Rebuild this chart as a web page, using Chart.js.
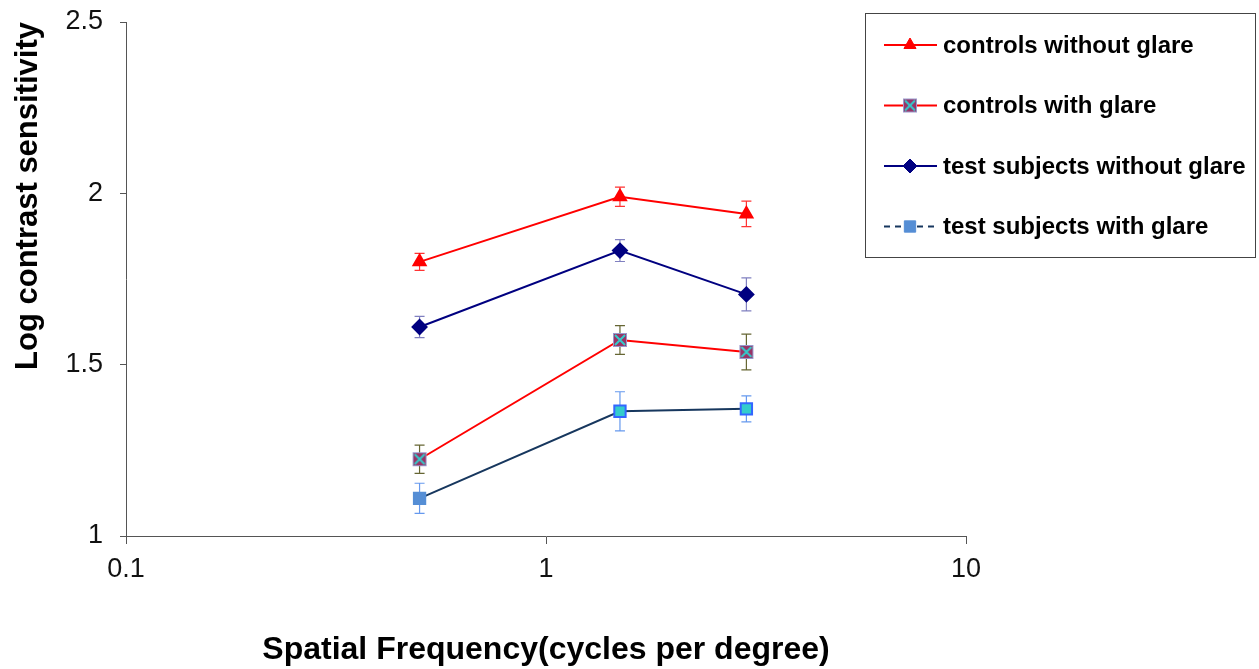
<!DOCTYPE html>
<html>
<head>
<meta charset="utf-8">
<script src="https://cdn.jsdelivr.net/npm/chart.js@4"></script>
<style>
  html, body { margin: 0; padding: 0; background: #fff; }
  #wrap { width: 1259px; height: 669px; position: relative; }
</style>
</head>
<body>
<div id="wrap"><canvas id="csfChart"></canvas></div>
<script>
// spatial frequencies (cycles per degree)
const freqs = [0.5, 1.5, 3];
const xTicks = [0.1, 1, 10];
const yTicks = [1, 1.5, 2, 2.5];

const seriesNames = [
    'controls without glare',
    'controls with glare',
    'test subjects without glare',
    'test subjects with glare'
];

// log contrast sensitivity
const ctrlNoGlare = [1.80, 1.99, 1.94];
const ctrlGlare = [1.224, 1.572, 1.537];
const testNoGlare = [1.61, 1.833, 1.705];
const testGlare = [1.11, 1.364, 1.371];

// +/- error
const ctrlNoGlareErr = [0.025, 0.028, 0.037];
const ctrlGlareErr = [0.041, 0.042, 0.052];
const testNoGlareErr = [0.031, 0.032, 0.048];
const testGlareErr = [0.044, 0.057, 0.038];

const FONT = '"Liberation Sans", Arial, sans-serif';

// marker: purple square with cyan cross
function makeCrossSquare() {
    const c = document.createElement('canvas');
    c.width = 16; c.height = 16;
    const g = c.getContext('2d');
    g.fillStyle = '#993366';
    g.fillRect(1, 1, 14, 14);
    g.strokeStyle = '#9999cc';
    g.lineWidth = 1;
    g.strokeRect(1.5, 1.5, 13, 13);
    g.strokeStyle = '#33cccc';
    g.lineWidth = 2;
    g.beginPath();
    g.moveTo(3, 3); g.lineTo(13, 13);
    g.moveTo(13, 3); g.lineTo(3, 13);
    g.stroke();
    return c;
}
const crossSquare = makeCrossSquare();

const toPts = ys => freqs.map((f, i) => ({ x: f, y: ys[i] }));

const errBars = [
    { vals: ctrlNoGlare, err: ctrlNoGlareErr, color: '#ff3333' },
    { vals: ctrlGlare, err: ctrlGlareErr, color: '#666633' },
    { vals: testNoGlare, err: testNoGlareErr, color: '#8080c0' },
    { vals: testGlare, err: testGlareErr, color: '#6699ee' }
];

// error bars go under the markers
const errorBarPlugin = {
    id: 'errorBars',
    beforeDatasetsDraw(chart) {
        const ctx = chart.ctx;
        const xs = chart.scales.x, ys = chart.scales.y;
        ctx.save();
        ctx.lineWidth = 1.2;
        errBars.forEach(s => {
            ctx.strokeStyle = s.color;
            freqs.forEach((f, i) => {
                const px = xs.getPixelForValue(f);
                const top = ys.getPixelForValue(s.vals[i] + s.err[i]);
                const bot = ys.getPixelForValue(s.vals[i] - s.err[i]);
                ctx.beginPath();
                ctx.moveTo(px, top); ctx.lineTo(px, bot);
                ctx.moveTo(px - 5, top); ctx.lineTo(px + 5, top);
                ctx.moveTo(px - 5, bot); ctx.lineTo(px + 5, bot);
                ctx.stroke();
            });
        });
        ctx.restore();
    }
};

// boxed legend with line + marker samples
const boxLegendPlugin = {
    id: 'boxLegend',
    afterDraw(chart) {
        const ctx = chart.ctx;
        const bx = 865, by = 13, bw = 390, bh = 244;
        ctx.save();
        ctx.fillStyle = '#fff';
        ctx.fillRect(bx, by, bw, bh);
        ctx.strokeStyle = '#444';
        ctx.lineWidth = 1;
        ctx.strokeRect(bx + 0.5, by + 0.5, bw, bh);
        chart.data.datasets.forEach((ds, i) => {
            const y = 45 + i * 60.5;
            ctx.strokeStyle = ds.borderColor;
            ctx.lineWidth = 2;
            if (ds.legendDash) ctx.setLineDash(ds.legendDash);
            ctx.beginPath();
            ctx.moveTo(884, y); ctx.lineTo(937, y);
            ctx.stroke();
            ctx.setLineDash([]);
            const pbg = Array.isArray(ds.pointBackgroundColor) ? ds.pointBackgroundColor[0] : ds.pointBackgroundColor;
            const pbc = Array.isArray(ds.pointBorderColor) ? ds.pointBorderColor[0] : ds.pointBorderColor;
            ctx.fillStyle = pbg;
            ctx.strokeStyle = pbc;
            ctx.lineWidth = 1;
            Chart.helpers.drawPoint(ctx, {
                pointStyle: ds.pointStyle,
                radius: ds.pointRadius,
                rotation: 0,
                borderWidth: 1
            }, 910, y);
            ctx.fillStyle = '#000';
            ctx.font = 'bold 24px ' + FONT;
            ctx.textBaseline = 'middle';
            ctx.fillText(ds.label, 943, y + 1);
        });
        ctx.restore();
    }
};

new Chart(document.getElementById('csfChart'), {
    type: 'line',
    data: {
        datasets: [
            {
                label: seriesNames[0],
                data: toPts(ctrlNoGlare),
                borderColor: '#ff0000',
                borderWidth: 2,
                pointStyle: 'triangle',
                pointRadius: 7,
                pointBackgroundColor: '#ff0000',
                pointBorderColor: '#ff0000'
            },
            {
                label: seriesNames[1],
                data: toPts(ctrlGlare),
                borderColor: '#ff0000',
                borderWidth: 2,
                pointStyle: crossSquare,
                pointRadius: 8,
                pointBackgroundColor: '#993366',
                pointBorderColor: '#9999cc'
            },
            {
                label: seriesNames[2],
                data: toPts(testNoGlare),
                borderColor: '#000080',
                borderWidth: 2,
                pointStyle: 'rectRot',
                pointRadius: 7,
                pointBackgroundColor: '#000080',
                pointBorderColor: '#000080'
            },
            {
                label: seriesNames[3],
                data: toPts(testGlare),
                borderColor: '#17375e',
                borderWidth: 2,
                legendDash: [6, 5],
                pointStyle: 'rect',
                pointRadius: 8,
                pointBackgroundColor: ['#558ed5', '#33cccc', '#33cccc'],
                pointBorderColor: ['#558ed5', '#3366ff', '#3366ff']
            }
        ]
    },
    options: {
        responsive: true,
        maintainAspectRatio: false,
        animation: false,
        layout: { padding: { left: 0, right: 293, top: 22, bottom: 0 } },
        plugins: {
            legend: { display: false },
            tooltip: { enabled: false }
        },
        scales: {
            x: {
                type: 'logarithmic',
                min: 0.1,
                max: 10,
                afterBuildTicks: axis => { axis.ticks = xTicks.map(v => ({ value: v })); },
                afterFit: axis => {
                    axis.height = 133;
                    axis.paddingLeft = 0;
                    axis.paddingRight = 0;
                },
                ticks: {
                    color: '#111',
                    font: { family: FONT, size: 27 },
                    padding: 9,
                    maxRotation: 0,
                    callback: v => String(v)
                },
                grid: { drawOnChartArea: false, drawTicks: true, tickLength: 8, color: '#555' },
                border: { color: '#555', width: 1 },
                title: {
                    display: true,
                    text: 'Spatial Frequency(cycles per degree)',
                    color: '#000',
                    font: { family: FONT, size: 32, weight: 'bold' },
                    padding: { top: 20, bottom: 0 }
                }
            },
            y: {
                type: 'linear',
                min: 1,
                max: 2.5,
                afterBuildTicks: axis => { axis.ticks = yTicks.map(v => ({ value: v })); },
                afterFit: axis => {
                    axis.width = 126;
                    axis.paddingTop = 0;
                    axis.paddingBottom = 0;
                },
                ticks: {
                    color: '#111',
                    font: { family: FONT, size: 27 },
                    padding: 17,
                    callback: v => String(v)
                },
                grid: { drawOnChartArea: false, drawTicks: true, tickLength: 6, color: '#555' },
                border: { color: '#555', width: 1 },
                title: {
                    display: true,
                    align: 'end',
                    text: 'Log contrast sensitivity',
                    color: '#000',
                    font: { family: FONT, size: 31, weight: 'bold' },
                    padding: { top: 10, bottom: 0 }
                }
            }
        }
    },
    plugins: [errorBarPlugin, boxLegendPlugin]
});
</script>
</body>
</html>
